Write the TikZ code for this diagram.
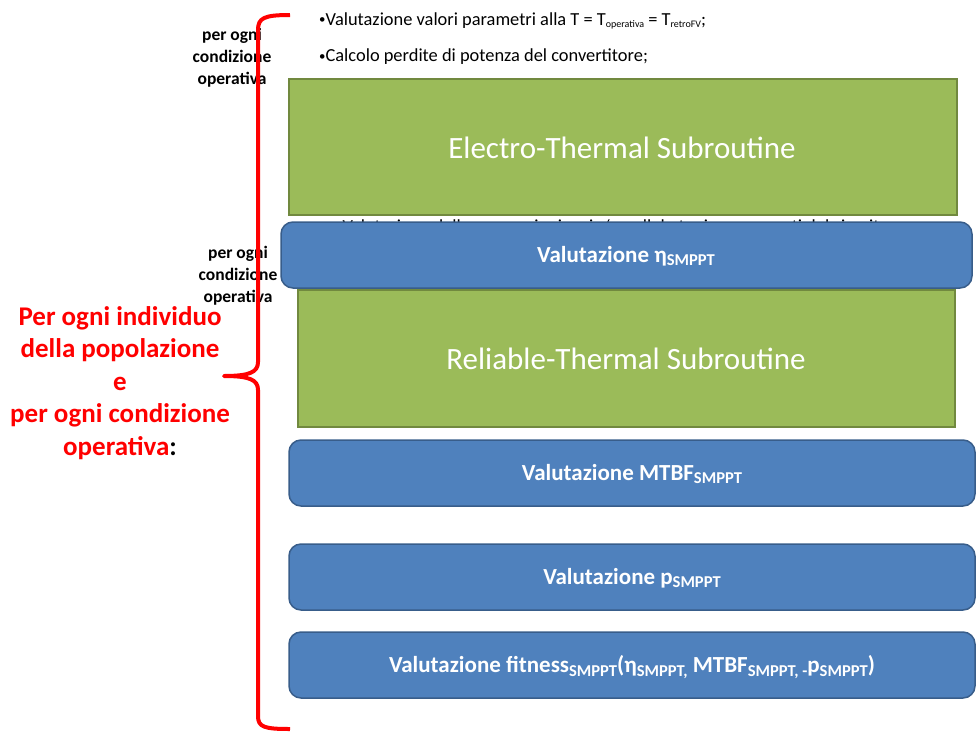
\documentclass[tikz,border=0pt]{standalone}
\usepackage{fontspec}
\setmainfont{Carlito}
\definecolor{gfill}{HTML}{9BBB59}
\definecolor{gline}{HTML}{71893F}
\definecolor{bfill}{HTML}{4F81BD}
\definecolor{bline}{HTML}{385D8A}
\newcommand{\lsub}[1]{\raisebox{-0.35ex}{\scalebox{0.72}{#1}}}
\newcommand{\tsub}[1]{\raisebox{-0.3ex}{\fontsize{10}{11}\selectfont #1}}
\newcommand{\sbul}{\raisebox{0.15ex}{\scalebox{0.7}{\textbullet}}}
\tikzset{
  greenbox/.style={draw=gline, line width=2pt, fill=gfill},
  bluebox/.style={draw=bline, line width=1.5pt, fill=bfill, rounded corners=12pt},
  gtext/.style={text=white, font=\fontsize{31}{35}\selectfont},
  btext/.style={text=white, font=\bfseries\fontsize{23}{26}\selectfont},
  bullet/.style={anchor=west, inner sep=0pt, font=\fontsize{18.4}{21}\selectfont},
  blk/.style={align=center, font=\bfseries\fontsize{17.5}{22}\selectfont, inner sep=0pt},
  redtxt/.style={align=center, text=red, font=\bfseries\fontsize{27}{32.5}\selectfont, inner sep=0pt}
}
\begin{document}
\begin{tikzpicture}[x=1pt,y=-1pt]
\useasboundingbox (0,0) rectangle (976,731);
% bullets
\node[bullet] (b1) at (319,21) {\sbul Valutazione valori parametri alla T = T\tsub{operativa} = T\tsub{retroFV};};
\node[bullet] (b2) at (319,57) {\sbul Calcolo perdite di potenza del convertitore;};
\node[bullet] (b3) at (336,228) {\sbul Valutazione delle connessioni serie/parallelo tra i componenti del circuito};
% black labels
\node[blk] (l1) at (232,58) {per ogni\\condizione\\operativa};
\node[blk] (l2) at (238,276) {per ogni\\condizione\\operativa};
% boxes
\path[greenbox] (289,79) rectangle (957,215);
\node[gtext] (et) at (622,148) {Electro-Thermal Subroutine};
\path[bluebox] (281,222) rectangle (972,288);
\node[btext] (eta) at (626,256) {Valutazione η\lsub{SMPPT}};
\path[greenbox] (298,290) rectangle (955,427);
\node[gtext] (rt) at (626,359) {Reliable-Thermal Subroutine};
\path[bluebox] (289,440) rectangle (975,506);
\node[btext] (mt) at (632,474) {Valutazione MTBF\lsub{SMPPT}};
\path[bluebox] (289,544) rectangle (975,610);
\node[btext] (pp) at (632,578) {Valutazione p\lsub{SMPPT}};
\path[bluebox] (289,632) rectangle (975,698);
\node[btext] (ff) at (632,667) {Valutazione fitness\lsub{SMPPT}(η\lsub{SMPPT,} MTBF\lsub{SMPPT, -}p\lsub{SMPPT})};
% red text
\node[redtxt] (rt2) at (120,383) {Per ogni individuo\\della popolazione\\e\\per ogni condizione\\operativa\textcolor{black}{:}};
% brace
\draw[red, line width=4pt, line join=round]
  (290,15) .. controls (264,15) and (258,18) .. (258,30) -- (258,362)
  .. controls (258,372) and (250,376) .. (224,376)
  .. controls (250,376) and (258,380) .. (258,390) -- (258,716)
  .. controls (258,727) and (264,729) .. (290,729);
\end{tikzpicture}
\end{document}
